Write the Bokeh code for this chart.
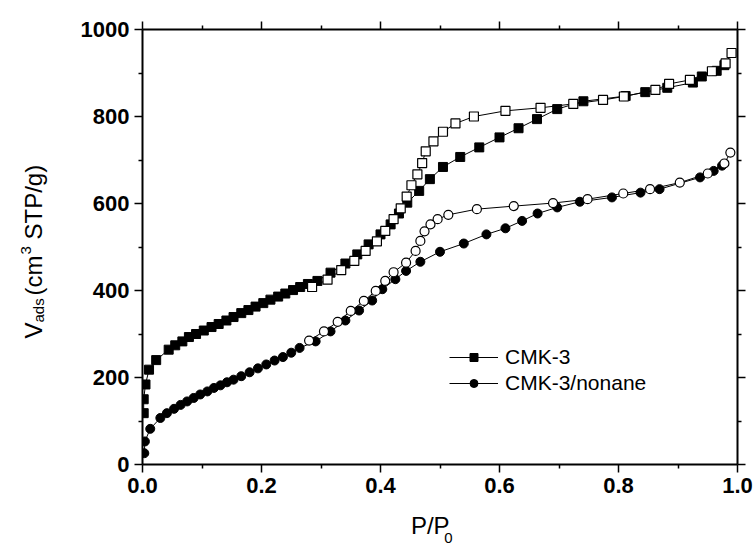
import math
from bokeh.plotting import figure
from bokeh.layouts import row, column
from bokeh.models import (Legend, LegendItem, LinearAxis, FixedTicker,
                          Range1d, PrintfTickFormatter)
from bokeh.core.properties import value
from bokeh.embed import file_html
from bokeh.resources import INLINE

# ---------------- data ----------------
cmk3_ads_x = [0.002, 0.002, 0.005, 0.011, 0.023, 0.044, 0.055, 0.067, 0.078, 0.090,
              0.103, 0.116, 0.128, 0.141, 0.153, 0.166, 0.178, 0.190, 0.203, 0.215,
              0.228, 0.240, 0.253, 0.265, 0.278, 0.294, 0.316, 0.341, 0.361, 0.380,
              0.400, 0.417, 0.431, 0.445, 0.465, 0.483, 0.505, 0.534, 0.566, 0.600,
              0.632, 0.663, 0.697, 0.741, 0.812, 0.845, 0.882, 0.925, 0.940, 0.965,
              0.978]
cmk3_ads_y = [118, 150, 184, 218, 240, 264, 274, 283, 293, 300,
              308, 316, 323, 331, 339, 348, 355, 363, 371, 379,
              386, 393, 401, 408, 415, 422, 441, 462, 483, 506,
              529, 552, 577, 602, 629, 656, 684, 707, 729, 752,
              773, 794, 817, 835, 847, 856, 866, 878, 892, 905,
              918]

cmk3_des_x = [0.990, 0.980, 0.957, 0.920, 0.885, 0.862, 0.809, 0.774, 0.724, 0.669,
              0.610, 0.557, 0.526, 0.505, 0.489, 0.476, 0.470, 0.462, 0.452, 0.444,
              0.434, 0.422, 0.408, 0.394, 0.375, 0.356, 0.334, 0.311, 0.285]
cmk3_des_y = [946, 922, 904, 884, 875, 861, 846, 838, 829, 820,
              813, 800, 784, 765, 743, 720, 693, 667, 642, 616,
              589, 564, 537, 513, 491, 468, 447, 425, 408]

non_ads_x = [0.003, 0.004, 0.013, 0.030, 0.041, 0.053, 0.064, 0.075, 0.086, 0.097,
             0.109, 0.120, 0.131, 0.142, 0.153, 0.166, 0.180, 0.194, 0.208, 0.222,
             0.236, 0.250, 0.264, 0.291, 0.316, 0.341, 0.364, 0.386, 0.403, 0.425,
             0.443, 0.467, 0.500, 0.540, 0.578, 0.610, 0.638, 0.664, 0.697, 0.735,
             0.789, 0.837, 0.869, 0.937, 0.960, 0.974]
non_ads_y = [26, 53, 82, 107, 118, 128, 137, 145, 153, 161,
             168, 176, 182, 189, 195, 203, 212, 221, 230, 239,
             247, 257, 268, 283, 306, 331, 354, 377, 403, 426,
             445, 466, 489, 508, 529, 543, 560, 577, 591, 604,
             614, 625, 633, 660, 675, 687]

non_des_x = [0.988, 0.978, 0.950, 0.903, 0.853, 0.808, 0.748, 0.690, 0.624, 0.562,
             0.514, 0.496, 0.484, 0.474, 0.467, 0.459, 0.443, 0.422, 0.408, 0.392,
             0.372, 0.350, 0.328, 0.305, 0.280]
non_des_y = [717, 692, 669, 648, 633, 623, 610, 601, 594, 587,
             574, 564, 552, 536, 514, 491, 464, 442, 422, 399,
             376, 353, 328, 306, 285]

x_major = [0.0, 0.2, 0.4, 0.6, 0.8, 1.0]
x_minor = [0.1, 0.3, 0.5, 0.7, 0.9]
y_major = [0, 200, 400, 600, 800, 1000]
y_minor = [100, 300, 500, 700, 900]
legend_names = ["CMK-3", "CMK-3/nonane"]
x_title = ["P/P", "0"]
y_title = ["V", "ads", "(cm", "3", "STP/g)"]

FONT = "Liberation Sans"
W, H = 756, 547
YW = 60     # width of the y-title strip
XH = 40     # height of the x-title strip

# ---------------- main figure ----------------
p = figure(width=W - YW, height=H - XH, output_backend="svg", toolbar_location=None,
           x_range=Range1d(0, 1), y_range=Range1d(0, 1000),
           min_border_left=142 - YW, min_border_right=19, min_border_top=29,
           min_border_bottom=(H - XH) - 464)
p.grid.visible = False
p.outline_line_color = None
p.background_fill_color = "white"
p.border_fill_color = "white"

p.xaxis.ticker = FixedTicker(ticks=x_major, minor_ticks=x_minor)
p.xaxis.formatter = PrintfTickFormatter(format="%.1f")
p.yaxis.ticker = FixedTicker(ticks=y_major, minor_ticks=y_minor)
top_ax = LinearAxis(ticker=FixedTicker(ticks=x_major, minor_ticks=x_minor))
right_ax = LinearAxis(ticker=FixedTicker(ticks=y_major, minor_ticks=y_minor))
p.add_layout(top_ax, "above")
p.add_layout(right_ax, "right")

for ax in p.axis:
    ax.axis_line_width = 2
    ax.axis_line_color = "black"
    ax.major_tick_line_width = 1.5
    ax.minor_tick_line_width = 1.5
    ax.major_tick_in = 0
    ax.major_tick_out = 8
    ax.minor_tick_in = 0
    ax.minor_tick_out = 4
    ax.major_label_standoff = 5
    ax.major_label_text_font = FONT
    ax.major_label_text_font_style = "bold"
    ax.major_label_text_font_size = "22px"
    ax.major_label_text_color = "black"

for ax in (top_ax, right_ax):
    ax.major_label_text_font_size = "1px"
    ax.major_label_text_color = None
    ax.major_label_standoff = 0

l1 = p.line(cmk3_ads_x, cmk3_ads_y, line_color="black", line_width=1)
s1 = p.scatter(cmk3_ads_x, cmk3_ads_y, marker="square", size=9,
               fill_color="black", line_color="black")
l2 = p.line(non_ads_x, non_ads_y, line_color="black", line_width=1)
s2 = p.scatter(non_ads_x, non_ads_y, marker="circle", size=9,
               fill_color="black", line_color="black")
p.line(cmk3_des_x, cmk3_des_y, line_color="black", line_width=1)
p.scatter(cmk3_des_x, cmk3_des_y, marker="square", size=9,
          fill_color="white", line_color="black", line_width=1.2)
p.line(non_des_x, non_des_y, line_color="black", line_width=1)
p.scatter(non_des_x, non_des_y, marker="circle", size=9,
          fill_color="white", line_color="black", line_width=1.2)

legend = Legend(items=[LegendItem(label=legend_names[0], renderers=[l1, s1]),
                       LegendItem(label=legend_names[1], renderers=[l2, s2])],
                location=(307, 69), glyph_width=49, glyph_height=20,
                label_height=20, label_standoff=7, spacing=2, padding=0,
                margin=0, border_line_color=None, background_fill_alpha=0,
                label_text_font=FONT, label_text_font_size="21px",
                label_text_color="black")
p.add_layout(legend, "center")


# ---------------- title strips (text in page pixel coordinates) ----------------
def strip(width, height, x0, y0):
    f = figure(width=width, height=height, output_backend="svg", toolbar_location=None,
               x_range=Range1d(x0, x0 + width), y_range=Range1d(y0 + height, y0),
               x_axis_location=None, y_axis_location=None, min_border=0)
    f.grid.visible = False
    f.outline_line_color = None
    f.background_fill_color = "white"
    f.border_fill_color = "white"
    return f


def txt(f, s, px, py, size, angle=0.0):
    f.text(x=[px], y=[py], text=[s], text_font=value(FONT), text_font_size=size,
           text_color="black", text_align="left", text_baseline="alphabetic",
           angle=angle)


fy = strip(YW, H, 0, 0)
up = math.pi / 2
txt(fy, y_title[0], 33, 338, "24px", up)
txt(fy, y_title[1], 38, 322, "15px", up)
txt(fy, y_title[2], 33, 295, "24px", up)
txt(fy, y_title[3], 25, 254, "15px", up)
txt(fy, y_title[4], 33, 239, "24px", up)

fx = strip(W - YW, XH, YW, H - XH)
txt(fx, x_title[0], 374, 525, "24px")
txt(fx, x_title[1], 413, 537, "15px")

layout = row(fy, column(p, fx, spacing=0), spacing=0)
open("out.html", "w").write(file_html(layout, INLINE))
